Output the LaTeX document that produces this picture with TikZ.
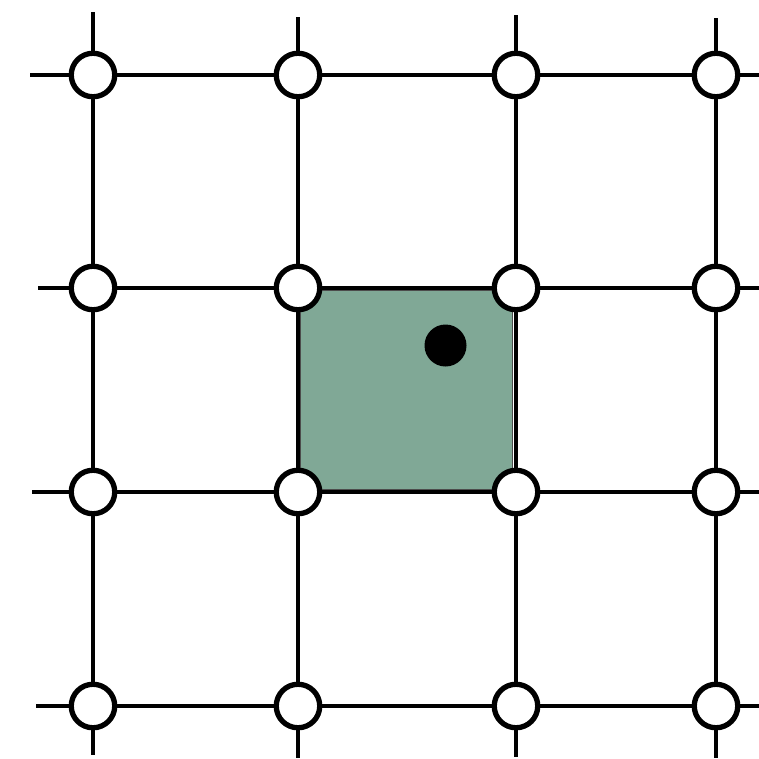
\documentclass[tikz,border=0pt]{standalone}
\definecolor{cellgreen}{RGB}{128,168,150}
\begin{document}
\begin{tikzpicture}[x=1pt,y=-1pt,
  vtx/.style={circle,draw=black,fill=white,line width=5.3pt,minimum size=43.5pt,inner sep=0pt},
  gridline/.style={line width=4.4pt,black},
  cell/.style={fill=cellgreen,draw=black!70,line width=1pt},
  dotmark/.style={circle,fill=black,minimum size=42pt,inner sep=0pt}]
\useasboundingbox (0,0) rectangle (759,758);
% highlighted cell
\draw[cell] (300.5,290.5) rectangle (512.5,489.5);
% free ends
\coordinate (t1) at (93,12); \coordinate (t2) at (298,17); \coordinate (t3) at (516,15); \coordinate (t4) at (716,18);
\coordinate (b1) at (93,755); \coordinate (b2) at (298,758); \coordinate (b3) at (516,757); \coordinate (b4) at (716,758);
\coordinate (l1) at (30,75); \coordinate (l2) at (38,288); \coordinate (l3) at (32,492); \coordinate (l4) at (36,706);
\coordinate (r1) at (759,75); \coordinate (r2) at (759,288); \coordinate (r3) at (759,492); \coordinate (r4) at (759,706);
% vertex positions
\foreach \r/\y in {1/75,2/288,3/492,4/706}{
  \foreach \c/\x in {1/93,2/298,3/516,4/716}{
    \coordinate (p\r\c) at (\x,\y);
  }
}
% grid lines
\foreach \c in {1,2,3,4}{
  \draw[gridline] (t\c) -- (p1\c) -- (p2\c) -- (p3\c) -- (p4\c) -- (b\c);
  \draw[gridline] (l\c) -- (p\c1) -- (p\c2) -- (p\c3) -- (p\c4) -- (r\c);
}
% circles
\foreach \r in {1,2,3,4}{\foreach \c in {1,2,3,4}{
  \node[vtx] (n\r\c) at (p\r\c) {};
}}
\node[dotmark] (dot) at (445.5,345.5) {};
\end{tikzpicture}
\end{document}
